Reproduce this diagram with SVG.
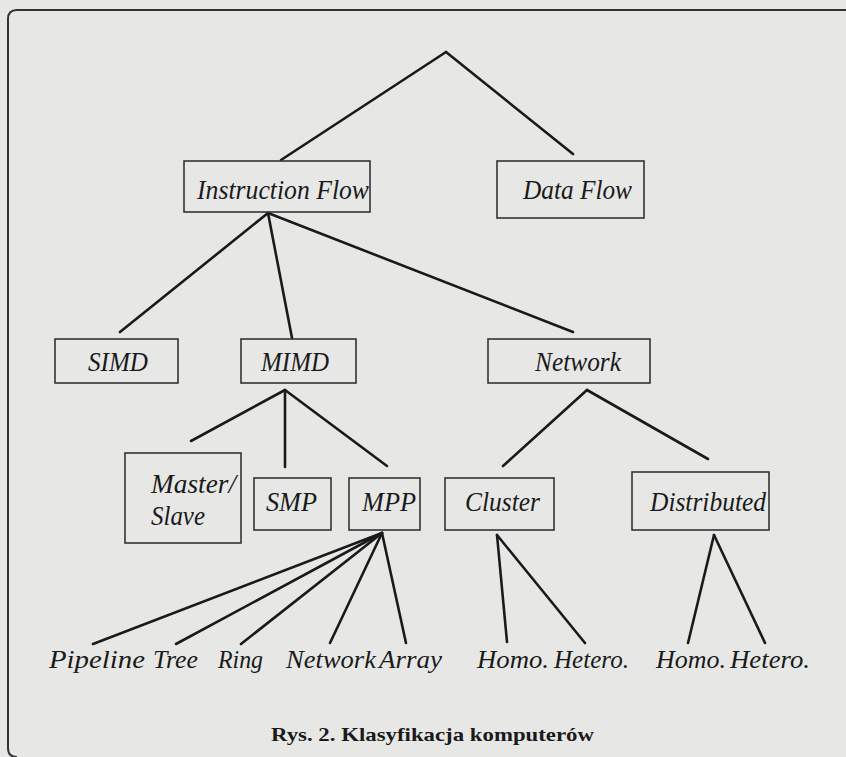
<svg xmlns="http://www.w3.org/2000/svg" width="846" height="757" viewBox="0 0 846 757">
<style>
.box{fill:none;stroke:#333;stroke-width:1.6}
.ln{stroke:#1a1a1a;stroke-width:2.6;stroke-linecap:round;fill:none}
.t{font-family:"Liberation Serif","Times New Roman",serif;font-style:italic;font-size:27px;fill:#1a1a1a}
.lf{font-size:26px}
.cap{font-family:"Liberation Serif","Times New Roman",serif;font-weight:bold;font-size:19px;fill:#1a1a1a}
</style>
<rect x="0" y="0" width="846" height="757" fill="#e7e8e6"/>
<path d="M 860 10 L 17 10 Q 8 10 8 19 L 8 748 Q 8 757 17 757" fill="none" stroke="#333" stroke-width="2"/>
<g id="connectors">
<line class="ln" x1="446" y1="52" x2="281" y2="160"/>
<line class="ln" x1="446" y1="52" x2="573" y2="154"/>
<line class="ln" x1="268" y1="213" x2="120" y2="332"/>
<line class="ln" x1="268" y1="213" x2="292" y2="338"/>
<line class="ln" x1="268" y1="213" x2="573" y2="332"/>
<line class="ln" x1="285" y1="390" x2="191" y2="441"/>
<line class="ln" x1="285" y1="390" x2="285" y2="467"/>
<line class="ln" x1="285" y1="390" x2="387" y2="466"/>
<line class="ln" x1="587" y1="390" x2="503" y2="466"/>
<line class="ln" x1="587" y1="390" x2="708" y2="459"/>
<line class="ln" x1="382" y1="533" x2="93" y2="644"/>
<line class="ln" x1="382" y1="533" x2="176" y2="644"/>
<line class="ln" x1="382" y1="533" x2="241" y2="644"/>
<line class="ln" x1="382" y1="533" x2="330" y2="643"/>
<line class="ln" x1="382" y1="533" x2="406" y2="643"/>
<line class="ln" x1="497" y1="535" x2="507" y2="642"/>
<line class="ln" x1="497" y1="535" x2="585" y2="643"/>
<line class="ln" x1="714" y1="535" x2="688" y2="643"/>
<line class="ln" x1="714" y1="535" x2="765" y2="643"/>
</g>
<g id="instruction-flow"><rect class="box" x="184" y="161" width="186" height="51"/><text class="t" x="197" y="199" textLength="172" lengthAdjust="spacingAndGlyphs">Instruction Flow</text></g>
<g id="data-flow"><rect class="box" x="497" y="161" width="147" height="57"/><text class="t" x="523" y="199" textLength="109" lengthAdjust="spacingAndGlyphs">Data Flow</text></g>
<g id="simd"><rect class="box" x="55" y="339" width="123" height="44"/><text class="t" x="88" y="371" textLength="60" lengthAdjust="spacingAndGlyphs">SIMD</text></g>
<g id="mimd"><rect class="box" x="241" y="339" width="115" height="44"/><text class="t" x="261" y="371" textLength="68" lengthAdjust="spacingAndGlyphs">MIMD</text></g>
<g id="network"><rect class="box" x="488" y="339" width="162" height="44"/><text class="t" x="535" y="371" textLength="86" lengthAdjust="spacingAndGlyphs">Network</text></g>
<g id="master-slave"><rect class="box" x="125" y="453" width="116" height="90"/><text class="t" x="151" y="493" textLength="85" lengthAdjust="spacingAndGlyphs">Master/</text><text class="t" x="151" y="525" textLength="54" lengthAdjust="spacingAndGlyphs">Slave</text></g>
<g id="smp"><rect class="box" x="254" y="478" width="77" height="52"/><text class="t" x="266" y="511" textLength="51" lengthAdjust="spacingAndGlyphs">SMP</text></g>
<g id="mpp"><rect class="box" x="349" y="478" width="71" height="52"/><text class="t" x="362" y="511" textLength="54" lengthAdjust="spacingAndGlyphs">MPP</text></g>
<g id="cluster"><rect class="box" x="445" y="478" width="109" height="52"/><text class="t" x="465" y="511" textLength="75" lengthAdjust="spacingAndGlyphs">Cluster</text></g>
<g id="distributed"><rect class="box" x="632" y="472" width="137" height="58"/><text class="t" x="650" y="511" textLength="116" lengthAdjust="spacingAndGlyphs">Distributed</text></g>
<g id="leaves">
<text class="t lf" x="49" y="668" textLength="96" lengthAdjust="spacingAndGlyphs">Pipeline</text>
<text class="t lf" x="153" y="668" textLength="45" lengthAdjust="spacingAndGlyphs">Tree</text>
<text class="t lf" x="218" y="668" textLength="45" lengthAdjust="spacingAndGlyphs">Ring</text>
<text class="t lf" x="286" y="668" textLength="90" lengthAdjust="spacingAndGlyphs">Network</text>
<text class="t lf" x="379" y="668" textLength="63" lengthAdjust="spacingAndGlyphs">Array</text>
<text class="t lf" x="477" y="668" textLength="72" lengthAdjust="spacingAndGlyphs">Homo.</text>
<text class="t lf" x="554" y="668" textLength="75" lengthAdjust="spacingAndGlyphs">Hetero.</text>
<text class="t lf" x="656" y="668" textLength="70" lengthAdjust="spacingAndGlyphs">Homo.</text>
<text class="t lf" x="730" y="668" textLength="80" lengthAdjust="spacingAndGlyphs">Hetero.</text>
</g>
<text class="cap" x="271" y="741" textLength="323" lengthAdjust="spacingAndGlyphs">Rys. 2. Klasyfikacja komputerów</text>
</svg>
